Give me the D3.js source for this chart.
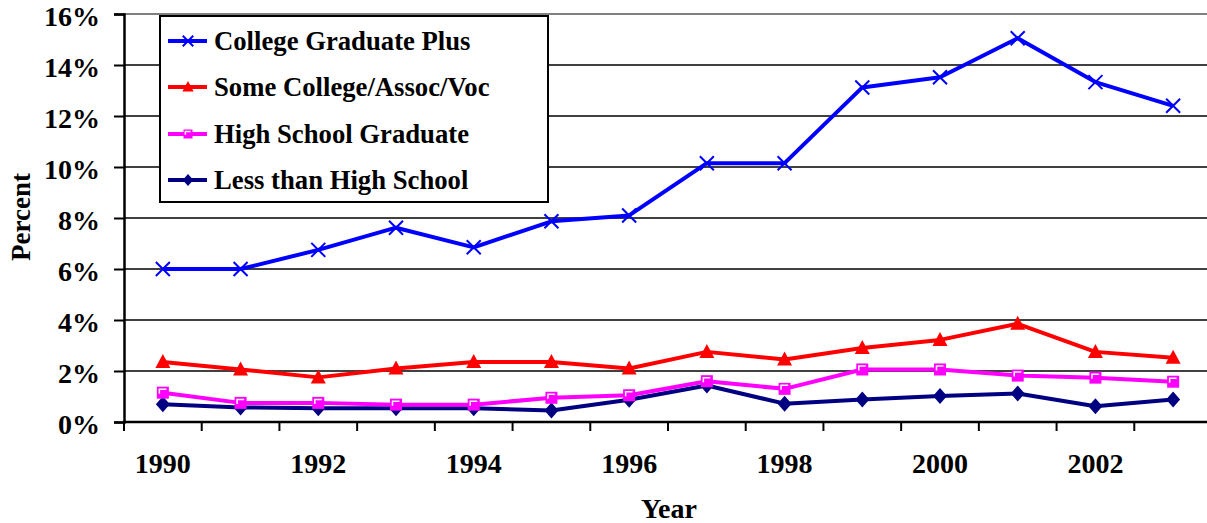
<!DOCTYPE html>
<html>
<head>
<meta charset="utf-8">
<script src="https://cdn.jsdelivr.net/npm/d3@7"></script>
<style>
  body { margin: 0; background: #fff; }
  svg { display: block; overflow: hidden; }
  text { font-family: "Liberation Serif", "Times New Roman", serif; font-weight: bold; fill: #000; }
</style>
</head>
<body>
<div id="chart"></div>
<script>
//Datos
const years = [1990, 1991, 1992, 1993, 1994, 1995, 1996, 1997, 1998, 1999, 2000, 2001, 2002, 2003];
const collegePlus = [6.0, 6.0, 6.75, 7.62, 6.85, 7.87, 8.1, 10.15, 10.15, 13.12, 13.52, 15.05, 13.33, 12.4];
const someCollege = [2.35, 2.06, 1.75, 2.1, 2.35, 2.35, 2.1, 2.75, 2.45, 2.9, 3.22, 3.85, 2.75, 2.52];
const highSchool = [1.15, 0.75, 0.75, 0.68, 0.68, 0.95, 1.05, 1.6, 1.3, 2.06, 2.06, 1.82, 1.74, 1.58];
const lessHigh = [0.7, 0.57, 0.54, 0.54, 0.54, 0.45, 0.87, 1.43, 0.72, 0.88, 1.02, 1.12, 0.62, 0.88];
const seriesNames = ['College Graduate Plus', 'Some College/Assoc/Voc', 'High School Graduate', 'Less than High School'];
const yTicks = [0, 2, 4, 6, 8, 10, 12, 14, 16];
const xLabels = [1990, 1992, 1994, 1996, 1998, 2000, 2002];

//Colores
const COLORS = ['#0000FF', '#FF0000', '#FF00FF', '#000080'];
const SHAPES = ['cross', 'triangle', 'square', 'diamond'];

const W = 1207, H = 523;
const margin = {top: 14, left: 124};
const plotRight = 1212, plotBottom = 422;

let svg = d3.select('#chart').append('svg')
    .attr('width', W)
    .attr('height', H);

let x = d3.scaleBand()
    .domain(years)
    .range([margin.left, plotRight]);

let y = d3.scaleLinear()
    .domain([0, 16])
    .range([plotBottom, margin.top]);

// Lineas de la rejilla
svg.append('g')
    .selectAll('line')
    .data(yTicks.filter(d => d > 0 && d < 16))
    .join('line')
    .attr('x1', margin.left).attr('x2', plotRight)
    .attr('y1', d => y(d)).attr('y2', d => y(d))
    .attr('stroke', '#000').attr('stroke-width', 1.6);

// borde superior gris
svg.append('line')
    .attr('x1', margin.left).attr('x2', plotRight)
    .attr('y1', y(16)).attr('y2', y(16))
    .attr('stroke', '#808080').attr('stroke-width', 2);

// Eje Y
let yAxis = d3.axisLeft(y)
    .tickValues(yTicks)
    .tickSize(10)
    .tickPadding(14)
    .tickFormat(d => d + '%');

let gy = svg.append('g')
    .attr('transform', 'translate(' + margin.left + ',0)')
    .call(yAxis)
    .attr('font-family', null)
    .attr('font-size', null);
gy.select('.domain').attr('stroke', '#000').attr('stroke-width', 2.5);
gy.selectAll('.tick line').attr('stroke', '#000').attr('stroke-width', 2);
gy.selectAll('.tick text')
    .attr('font-size', 28)
    .attr('dy', '0.4em');

// Eje X: marcas en los bordes de cada año
let edges = years.map(d => x(d)).concat([plotRight]);
svg.append('g')
    .selectAll('line')
    .data(edges)
    .join('line')
    .attr('x1', d => d).attr('x2', d => d)
    .attr('y1', plotBottom).attr('y2', plotBottom + 9)
    .attr('stroke', '#000').attr('stroke-width', 2);

svg.append('line')
    .attr('x1', margin.left - 1).attr('x2', plotRight)
    .attr('y1', plotBottom).attr('y2', plotBottom)
    .attr('stroke', '#000').attr('stroke-width', 2.5);

svg.append('g')
    .selectAll('text')
    .data(xLabels)
    .join('text')
    .attr('x', d => x(d) + x.bandwidth() / 2)
    .attr('y', 473)
    .attr('text-anchor', 'middle')
    .attr('font-size', 28)
    .text(d => d);

// Titulos de ejes
svg.append('text')
    .attr('x', 669).attr('y', 518)
    .attr('text-anchor', 'middle')
    .attr('font-size', 28)
    .text('Year');

svg.append('text')
    .attr('transform', 'translate(30,217) rotate(-90)')
    .attr('text-anchor', 'middle')
    .attr('font-size', 27)
    .text('Percent');

// Series
const allSeries = [collegePlus, someCollege, highSchool, lessHigh];
let line = d3.line()
    .x((d, i) => x(years[i]) + x.bandwidth() / 2)
    .y(d => y(d));

function drawMarker(g, shape, color, cx, cy, s) {
    if (shape === 'cross') {
        g.append('path')
            .attr('d', 'M' + (cx - 7 * s) + ',' + (cy - 7 * s) + 'L' + (cx + 7 * s) + ',' + (cy + 7 * s) +
                'M' + (cx - 7 * s) + ',' + (cy + 7 * s) + 'L' + (cx + 7 * s) + ',' + (cy - 7 * s))
            .attr('stroke', color).attr('stroke-width', 2).attr('fill', 'none');
    } else if (shape === 'triangle') {
        g.append('path')
            .attr('d', 'M' + cx + ',' + (cy - 8 * s) + 'L' + (cx + 7.5 * s) + ',' + (cy + 6 * s) + 'L' + (cx - 7.5 * s) + ',' + (cy + 6 * s) + 'Z')
            .attr('fill', color);
    } else if (shape === 'square') {
        g.append('rect')
            .attr('x', cx - 6 * s).attr('y', cy - 6 * s)
            .attr('width', 12 * s).attr('height', 12 * s)
            .attr('fill', color);
        g.append('path')
            .attr('d', 'M' + (cx - 3.5 * s) + ',' + (cy + 1 * s) + 'L' + (cx - 3.5 * s) + ',' + (cy - 3.5 * s) + 'L' + (cx + 3.5 * s) + ',' + (cy - 3.5 * s))
            .attr('stroke', '#fff').attr('stroke-width', 1.5).attr('fill', 'none');
    } else {
        g.append('path')
            .attr('d', 'M' + cx + ',' + (cy - 8 * s) + 'L' + (cx + 7 * s) + ',' + cy + 'L' + cx + ',' + (cy + 8 * s) + 'L' + (cx - 7 * s) + ',' + cy + 'Z')
            .attr('fill', color);
    }
}

// orden de dibujo: de abajo hacia arriba
[3, 2, 1, 0].forEach(function(k) {
    let g = svg.append('g');
    g.append('path')
        .datum(allSeries[k])
        .attr('fill', 'none')
        .attr('stroke', COLORS[k])
        .attr('stroke-width', 4)
        .attr('stroke-linejoin', 'round')
        .attr('d', line);
    allSeries[k].forEach(function(v, i) {
        drawMarker(g, SHAPES[k], COLORS[k], x(years[i]) + x.bandwidth() / 2, y(v), 1);
    });
});

// Leyenda
let legend = svg.append('g');
legend.append('rect')
    .attr('x', 160).attr('y', 16)
    .attr('width', 388).attr('height', 186)
    .attr('fill', '#fff')
    .attr('stroke', '#000').attr('stroke-width', 2);

const legendRows = [41, 87, 134, 180];
seriesNames.forEach(function(name, k) {
    let ly = legendRows[k];
    legend.append('line')
        .attr('x1', 168).attr('x2', 207)
        .attr('y1', ly).attr('y2', ly)
        .attr('stroke', COLORS[k]).attr('stroke-width', 4);
    drawMarker(legend, SHAPES[k], COLORS[k], 188, ly, 0.75);
    legend.append('text')
        .attr('x', 214).attr('y', ly + 9)
        .attr('font-size', 26.7)
        .text(name);
});
</script>
</body>
</html>
